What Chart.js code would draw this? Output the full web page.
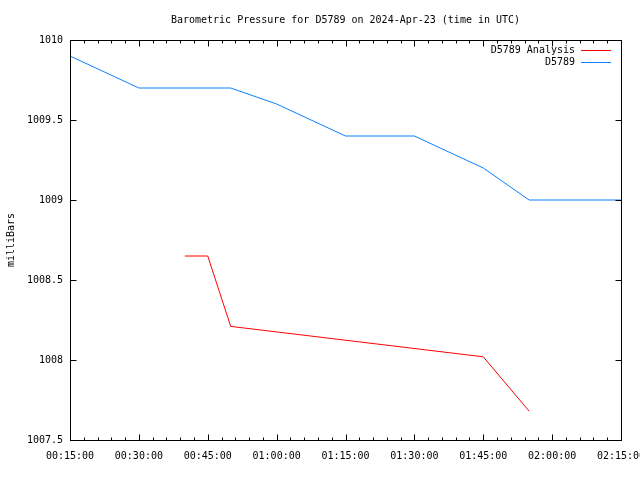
<!DOCTYPE html>
<html>
<head>
<meta charset="utf-8">
<script src="https://cdn.jsdelivr.net/npm/chart.js@4"></script>
<style>
  body { margin: 0; background: #fff; }
  canvas { display: block; }
</style>
</head>
<body>
<canvas id="pressureChart" width="640" height="480"></canvas>
<script>
// Barometric pressure, D5789, 2024-Apr-23 (UTC)
const titleText = "Barometric Pressure for D5789 on 2024-Apr-23 (time in UTC)";
const yAxisLabel = "milliBars";

const analysisTimes = ["00:40:00", "00:45:00", "00:50:00", "01:45:00", "01:55:00"];
const analysisValues = [1008.65, 1008.65, 1008.21, 1008.02, 1007.68];

const stationTimes = ["00:15:00", "00:30:00", "00:50:00", "01:00:00", "01:15:00", "01:30:00", "01:45:00", "01:55:00", "02:15:00"];
const stationValues = [1009.9, 1009.7, 1009.7, 1009.6, 1009.4, 1009.4, 1009.2, 1009.0, 1009.0];

const xTickLabels = ["00:15:00", "00:30:00", "00:45:00", "01:00:00", "01:15:00", "01:30:00", "01:45:00", "02:00:00", "02:15:00"];
const yTickLabels = ["1007.5", "1008", "1008.5", "1009", "1009.5", "1010"];

const FONT = "DejaVu Sans Mono";

function toMinutes(t) {
    const p = t.split(":");
    return (+p[0]) * 60 + (+p[1]) + (+p[2]) / 60;
}

function points(times, values) {
    return times.map(function (t, i) { return { x: toMinutes(t), y: values[i] }; });
}

const xMin = toMinutes(xTickLabels[0]);
const xMax = toMinutes(xTickLabels[xTickLabels.length - 1]);
const yMin = parseFloat(yTickLabels[0]);
const yMax = parseFloat(yTickLabels[yTickLabels.length - 1]);

// frame, inward ticks (gnuplot style), title, y label, legend
const gnuplotFrame = {
    id: "gnuplotFrame",
    afterDraw: function (chart) {
        const ctx = chart.ctx;
        const a = chart.chartArea;
        const xs = chart.scales.x;
        const ys = chart.scales.y;
        const L = Math.round(a.left) + 0.5, R = Math.round(a.right) + 0.5;
        const T = Math.round(a.top) + 0.5, B = Math.round(a.bottom) + 0.5;

        ctx.save();
        ctx.strokeStyle = "#000";
        ctx.lineWidth = 1;
        ctx.beginPath();

        // x ticks, major every 15 min, minor every 3 min
        for (let m = xMin; m <= xMax + 0.001; m += 3) {
            const px = Math.round(xs.getPixelForValue(m)) + 0.5;
            const len = ((m - xMin) % 15 === 0) ? 6 : 3;
            ctx.moveTo(px, B); ctx.lineTo(px, B - len);
            ctx.moveTo(px, T); ctx.lineTo(px, T + len);
        }
        // y ticks
        yTickLabels.forEach(function (lbl) {
            const py = Math.round(ys.getPixelForValue(parseFloat(lbl))) + 0.5;
            ctx.moveTo(L, py); ctx.lineTo(L + 6, py);
            ctx.moveTo(R, py); ctx.lineTo(R - 6, py);
        });
        ctx.stroke();

        ctx.strokeRect(L, T, R - L, B - T);

        ctx.fillStyle = "#000";
        ctx.font = "10px '" + FONT + "'";
        ctx.textBaseline = "middle";

        // title
        ctx.textAlign = "center";
        ctx.fillText(titleText, (a.left + a.right) / 2, 20);

        // y axis label
        ctx.save();
        ctx.translate(11, (a.top + a.bottom) / 2);
        ctx.rotate(-Math.PI / 2);
        ctx.fillText(yAxisLabel, 0, 0);
        ctx.restore();

        // legend
        ctx.textAlign = "right";
        chart.data.datasets.forEach(function (ds, i) {
            const y = 50 + i * 12;
            ctx.fillStyle = "#000";
            ctx.fillText(ds.label, 575, y);
            ctx.strokeStyle = ds.borderColor;
            ctx.beginPath();
            ctx.moveTo(581, y + 0.5);
            ctx.lineTo(611, y + 0.5);
            ctx.stroke();
        });
        ctx.restore();
    }
};

new Chart(document.getElementById("pressureChart"), {
    type: "line",
    data: {
        datasets: [{
            label: "D5789 Analysis",
            data: points(analysisTimes, analysisValues),
            borderColor: "#ff0000",
            borderWidth: 1,
            pointRadius: 0,
            tension: 0,
            fill: false
        }, {
            label: "D5789",
            data: points(stationTimes, stationValues),
            borderColor: "#0a80ff",
            borderWidth: 1,
            pointRadius: 0,
            tension: 0,
            fill: false
        }]
    },
    options: {
        responsive: false,
        animation: false,
        layout: { padding: { left: 0, top: 40, right: 19, bottom: 0 } },
        plugins: {
            legend: { display: false },
            title: { display: false },
            tooltip: { enabled: false }
        },
        scales: {
            x: {
                type: "linear",
                min: xMin,
                max: xMax,
                grid: { drawOnChartArea: false, drawTicks: false },
                border: { display: false },
                afterBuildTicks: function (scale) {
                    scale.ticks = xTickLabels.map(function (t) { return { value: toMinutes(t) }; });
                },
                ticks: {
                    autoSkip: false,
                    maxRotation: 0,
                    padding: 10,
                    color: "#000",
                    font: { family: FONT, size: 10 },
                    callback: function (v) {
                        const i = xTickLabels.findIndex(function (t) { return Math.abs(toMinutes(t) - v) < 0.01; });
                        return i >= 0 ? xTickLabels[i] : "";
                    }
                },
                afterFit: function (scale) {
                    scale.height = 40;
                    scale.paddingLeft = 0;
                    scale.paddingRight = 0;
                }
            },
            y: {
                min: yMin,
                max: yMax,
                grid: { drawOnChartArea: false, drawTicks: false },
                border: { display: false },
                afterBuildTicks: function (scale) {
                    scale.ticks = yTickLabels.map(function (t) { return { value: parseFloat(t) }; });
                },
                ticks: {
                    padding: 7,
                    color: "#000",
                    font: { family: FONT, size: 10 },
                    callback: function (v) {
                        const i = yTickLabels.findIndex(function (t) { return Math.abs(parseFloat(t) - v) < 1e-6; });
                        return i >= 0 ? yTickLabels[i] : "";
                    }
                },
                afterFit: function (scale) {
                    scale.width = 70;
                    scale.paddingTop = 0;
                    scale.paddingBottom = 0;
                }
            }
        }
    },
    plugins: [gnuplotFrame]
});
</script>
</body>
</html>
